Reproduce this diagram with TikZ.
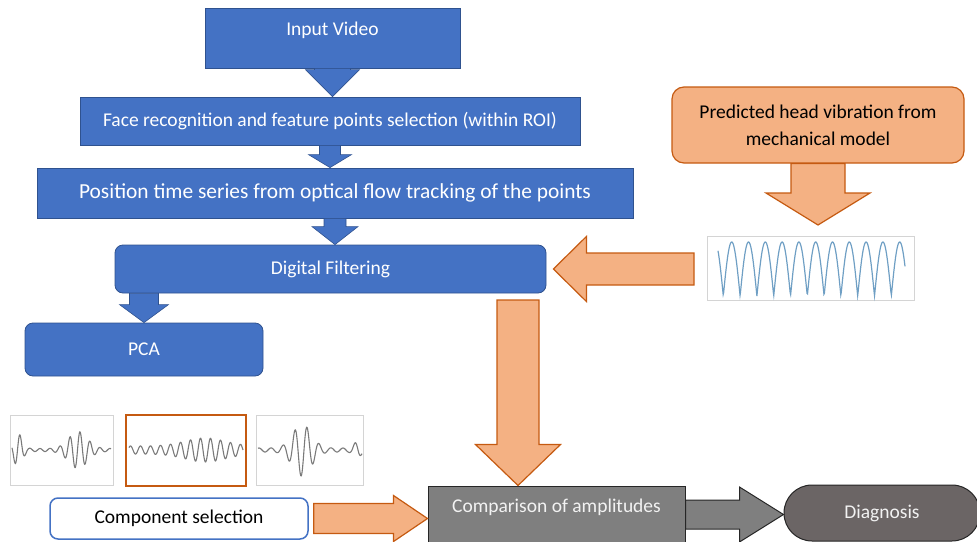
\documentclass[tikz,border=0pt]{standalone}
\usepackage{fontspec}
\setmainfont{Carlito}
\usepackage{tikz}
\usetikzlibrary{calc,positioning}
\definecolor{boxblue}{HTML}{4472C4}
\definecolor{lineblue}{HTML}{2F528F}
\definecolor{boxorange}{HTML}{F4B183}
\definecolor{lineorange}{HTML}{C55A11}
\definecolor{boxgray}{HTML}{7F7F7F}
\definecolor{diaggray}{HTML}{6B6565}
\definecolor{plotblue}{HTML}{6F9FC4}
\definecolor{wavegray}{HTML}{7A7A7A}
\definecolor{framegray}{HTML}{D4D4D4}
\tikzset{every node/.style={align=center}, font=\fontsize{19.5}{23}\selectfont,
  bluebox/.style={draw=lineblue, fill=boxblue, text=white, line width=0.8pt},
  roundblue/.style={bluebox, rounded corners=8pt},
  orangebox/.style={draw=lineorange, fill=boxorange, line width=1.2pt, rounded corners=12pt},
  graybox/.style={draw=black!85, fill=boxgray, text=white!95!black, line width=1pt},
  bluearrow/.style={draw=lineblue, fill=boxblue, line width=0.6pt},
  orangearrow/.style={draw=lineorange, fill=boxorange, line width=1.2pt},
  grayarrow/.style={draw=black!85, fill=boxgray, line width=1pt},
  plotframe/.style={draw=framegray, line width=0.6pt, inner sep=0pt},
  wave/.style={wavegray, line width=1.1pt}}
% style, from, to, half shaft, half head, head length
\newcommand{\blockarrow}[6]{%
  \draw[#1] ($(#2)!#4!90:(#3)$) -- ($(#3)!#6!(#2)!#4!90:(#3)$)
    -- ($(#3)!#6!(#2)!#5!90:(#3)$) -- (#3)
    -- ($(#3)!#6!(#2)!#5!-90:(#3)$) -- ($(#3)!#6!(#2)!#4!-90:(#3)$)
    -- ($(#2)!#4!-90:(#3)$) -- cycle;}
% gaussian bump for the wave envelopes
\newcommand{\bump}[2]{exp(-min(((\x-#1)/#2)*((\x-#1)/#2),12))}

\begin{document}
\begin{tikzpicture}[x=1pt, y=-1pt]
            \useasboundingbox (0,0) rectangle (977,541);
            % left column
            \node [bluebox, minimum width=255pt, minimum height=60pt, text height=13pt, text depth=19pt] (video) at (332.5,38) {Input Video};
            \node [bluebox, minimum width=500pt, minimum height=48pt] (face) at (330,121) {Face recognition and feature points selection (within ROI)};
            \node [bluebox, minimum width=596pt, minimum height=50pt, font=\fontsize{21.4}{25}\selectfont] (pos) at (335,193) {Position time series from optical flow tracking of the points};
            \node [roundblue, minimum width=431pt, minimum height=48pt] (filt) at (330.5,269) {Digital Filtering};
            \node [roundblue, minimum width=238pt, minimum height=53pt] (pca) at (144,349.5) {PCA};
            % model branch
            \node [orangebox, minimum width=292pt, minimum height=76pt, font=\fontsize{19.5}{27}\selectfont] (pred) at (818,125) {Predicted head vibration from\\mechanical model};
            \node [plotframe, minimum width=207pt, minimum height=64pt] (hvplot) at (810.5,268) {};
            % components
            \node [plotframe, minimum width=103pt, minimum height=70pt] (comp1) at (61.5,450) {};
            \node [plotframe, draw=lineorange, line width=2pt, minimum width=120pt, minimum height=71pt] (comp2) at (186,450.5) {};
            \node [plotframe, minimum width=107pt, minimum height=70pt] (comp3) at (309.5,450) {};
            \node [draw=boxblue, fill=white, line width=1.5pt, rounded corners=8pt, minimum width=258pt, minimum height=41pt] (compsel) at (179,518.5) {Component selection};
            \node [graybox, minimum width=257pt, minimum height=57pt, text height=13pt, text depth=17pt] (cmp) at (556.5,514.5) {Comparison of amplitudes};
            \node [graybox, fill=diaggray, rounded corners=28pt, minimum width=196pt, minimum height=56pt] (diag) at (882,513) {Diagnosis};

            \coordinate (predtip) at (818,225);
            \coordinate (hvout) at (694,269);
            \coordinate (filtin) at ($(filt.east)+(7,0)$);
            \coordinate (filtout) at (518,300);
            \coordinate (selout) at ($(compsel.east)+(5,0)$);

            \blockarrow{bluearrow}{video.south}{video.south |- face.north}{18pt}{27pt}{27pt}
            \blockarrow{bluearrow}{face.south}{face.south |- pos.north}{10.5pt}{21.5pt}{13pt}
            \blockarrow{bluearrow}{pos.south}{pos.south |- filt.north}{11pt}{23pt}{18pt}
            \blockarrow{bluearrow}{pca.north |- filt.south}{pca.north}{14.5pt}{24.5pt}{18pt}
            \blockarrow{orangearrow}{pred.south}{predtip}{27pt}{52pt}{32pt}
            \blockarrow{orangearrow}{hvout}{filtin}{16pt}{32.5pt}{33pt}
            \blockarrow{orangearrow}{filtout}{filtout |- cmp.north}{21pt}{42.5pt}{41pt}
            \blockarrow{orangearrow}{selout}{cmp.west |- selout}{15pt}{23pt}{34pt}
            \blockarrow{grayarrow}{cmp.east}{diag.west |- cmp.east}{14.5pt}{27.5pt}{44pt}

            % signals
            \draw [plotblue, line width=1.2pt] plot [domain=718:905, samples=400] (\x,{296-54*abs(sin((\x-723.3)*10.714))});
            \draw [wave] plot [domain=12:111, samples=300, smooth] (\x,{450-(1.5+15*\bump{18}{6}+17*\bump{78}{13})*sin((\x-57.5)*36)});
            \draw [wave] plot [domain=129:243, samples=300, smooth] (\x,{450-(4+8*\bump{205}{28})*sin((\x-128)*36)});
            \draw [wave] plot [domain=258:362, samples=300, smooth] (\x,{450-(2+24*\bump{302}{13}+6*\bump{357}{5})*sin((\x-304)*30)});
        \end{tikzpicture}
\end{document}
